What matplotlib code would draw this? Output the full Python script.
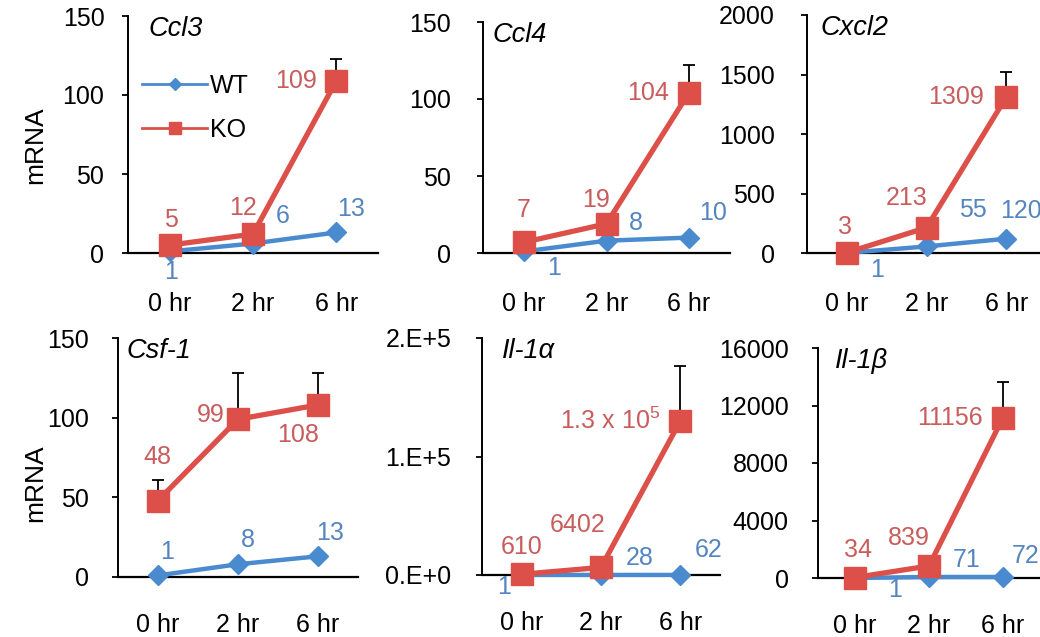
import matplotlib
matplotlib.use("Agg")
import matplotlib.pyplot as plt
from matplotlib.lines import Line2D

plt.rcParams['font.family'] = ['Liberation Sans', 'DejaVu Sans']
plt.rcParams['mathtext.fontset'] = 'custom'
plt.rcParams['mathtext.rm'] = 'Liberation Sans'
plt.rcParams['mathtext.it'] = 'Liberation Sans:italic'

# data
times = ['0 hr', '2 hr', '6 hr']
genes = ['Ccl3', 'Ccl4', 'Cxcl2', 'Csf-1', 'Il-1α', 'Il-1β']

wt_ccl3 = [1, 6, 13]
ko_ccl3 = [5, 12, 109]
wt_ccl4 = [1, 8, 10]
ko_ccl4 = [7, 19, 104]
wt_cxcl2 = [1, 55, 120]
ko_cxcl2 = [3, 213, 1309]
wt_csf1 = [1, 8, 13]
ko_csf1 = [48, 99, 108]
wt_il1a = [1, 28, 62]
ko_il1a = [610, 6402, 130000]
wt_il1b = [1, 71, 72]
ko_il1b = [34, 839, 11156]

# upper error bars on KO
err_ccl3 = [0, 0, 14]
err_ccl4 = [0, 0, 18]
err_cxcl2 = [0, 0, 212]
err_csf1 = [13, 29, 20]
err_il1a = [0, 0, 46000]
err_il1b = [0, 0, 2470]

# point labels
lab_wt = [['1', '6', '13'], ['1', '8', '10'], ['1', '55', '120'],
          ['1', '8', '13'], ['1', '28', '62'], ['1', '71', '72']]
lab_ko = [['5', '12', '109'], ['7', '19', '104'], ['3', '213', '1309'],
          ['48', '99', '108'], ['610', '6402', r'1.3 x 10$^5$'], ['34', '839', '11156']]

yticks = [[0, 50, 100, 150], [0, 50, 100, 150], [0, 500, 1000, 1500, 2000],
          [0, 50, 100, 150], [0, 100000, 200000], [0, 4000, 8000, 12000, 16000]]
ytick_labels = [None, None, None, None, ['0.E+0', '1.E+5', '2.E+5'], None]

wt_all = [wt_ccl3, wt_ccl4, wt_cxcl2, wt_csf1, wt_il1a, wt_il1b]
ko_all = [ko_ccl3, ko_ccl4, ko_cxcl2, ko_csf1, ko_il1a, ko_il1b]
err_all = [err_ccl3, err_ccl4, err_cxcl2, err_csf1, err_il1a, err_il1b]

# layout (pixels): left, right, top, zero line
boxes = [(128, 378, 16, 253), (483, 730, 22, 253), (807, 1046, 15, 253),
         (118, 358, 338, 577), (482, 720, 338, 575), (818, 1040, 348, 578)]
ypads = [13, 19, 19, 17, 18, 17]
xpads = [28, 28, 28, 26, 26, 26]
title_dx = [20, 9, 13, 9, 20, 17]

# label offsets in pixels (dx, dy, ha)
off_wt = [[(1, -21, 'center'), (30, 28, 'center'), (15, 23, 'center')],
          [(30, -17, 'center'), (29, 18, 'center'), (24, 25, 'center')],
          [(30, -17, 'center'), (46, 36, 'center'), (-6, 28, 'left')],
          [(9, 23, 'center'), (10, 24, 'center'), (12, 23, 'center')],
          [(-18, -12, 'center'), (39, 17, 'center'), (28, 25, 'center')],
          [(40, -12, 'center'), (38, 17, 'center'), (23, 21, 'center')]]
off_ko = [[(1, 25, 'center'), (-10, 26, 'center'), (-19, 0, 'right')],
          [(0, 32, 'center'), (-11, 24, 'center'), (-20, 0, 'right')],
          [(-2, 26, 'center'), (-20, 30, 'center'), (-22, 0, 'right')],
          [(-1, 44, 'center'), (-13, 4, 'right'), (-20, -30, 'center')],
          [(0, 27, 'center'), (-23, 42, 'center'), (-20, 0, 'right')],
          [(3, 28, 'center'), (-20, 28, 'center'), (-20, 0, 'right')]]

wt_color = '#4a8bd0'
ko_color = '#dc5049'
wt_text = '#5585c0'
ko_text = '#c95c5c'
fs = 18

W, H = 1040, 637
fig = plt.figure(figsize=(W / 100, H / 100), dpi=100)

x = list(range(len(times)))
for i in range(6):
    l, r, t, z = boxes[i]
    ax = fig.add_axes([l / W, 1 - z / H, (r - l) / W, (z - t) / H])
    ax.set_xlim(-0.5, 2.5)
    ax.set_ylim(0, yticks[i][-1])

    ax.errorbar(x, ko_all[i], yerr=[[0, 0, 0], err_all[i]], fmt='none',
                ecolor='black', elinewidth=1.3, capsize=4, capthick=1.3,
                zorder=3, clip_on=False)
    ax.plot(x, wt_all[i], color=wt_color, lw=3.2, marker='D', ms=10,
            zorder=4, clip_on=False)
    ax.plot(x, ko_all[i], color=ko_color, lw=3.8, marker='s', ms=15.5,
            zorder=5, clip_on=False)

    for j in range(3):
        dx, dy, ha = off_wt[i][j]
        ax.annotate(lab_wt[i][j], (x[j], wt_all[i][j]), xytext=(dx, dy),
                    textcoords='offset pixels', ha=ha, va='center',
                    fontsize=fs, color=wt_text, zorder=6, annotation_clip=False)
        dx, dy, ha = off_ko[i][j]
        ax.annotate(lab_ko[i][j], (x[j], ko_all[i][j]), xytext=(dx, dy),
                    textcoords='offset pixels', ha=ha, va='center',
                    fontsize=fs, color=ko_text, zorder=6, annotation_clip=False)

    ax.set_xticks(x)
    ax.set_xticklabels(times)
    ax.set_yticks(yticks[i])
    if ytick_labels[i] is not None:
        ax.set_yticklabels(ytick_labels[i])
    ax.tick_params(axis='x', length=0, pad=xpads[i], labelsize=fs)
    ax.tick_params(axis='y', direction='out', length=4, width=1.3,
                   pad=ypads[i], labelsize=fs)
    for s in ['top', 'right']:
        ax.spines[s].set_visible(False)
    ax.spines['left'].set_linewidth(1.4)
    ax.spines['bottom'].set_linewidth(1.6)

    # gene name in italics at top left
    ax.annotate(genes[i], (0, 1), xycoords='axes fraction',
                xytext=(title_dx[i], 0), textcoords='offset pixels',
                fontsize=19.5, style='italic', ha='left', va='top')

    if i == 0:
        handles = [Line2D([], [], color=wt_color, lw=2, marker='D', ms=6),
                   Line2D([], [], color=ko_color, lw=2, marker='s', ms=9)]
        ax.legend(handles, ['WT', 'KO'], loc='upper left',
                  bbox_to_anchor=(0.056, 0.757), frameon=False, fontsize=fs,
                  handlelength=2.6, handletextpad=0.12, labelspacing=0.8,
                  borderpad=0, borderaxespad=0)

fig.text(35 / W, 1 - 145 / H, 'mRNA', rotation=90, fontsize=19,
         ha='center', va='center')
fig.text(35 / W, 1 - 483 / H, 'mRNA', rotation=90, fontsize=19,
         ha='center', va='center')

fig.savefig('out.png', dpi=100)
